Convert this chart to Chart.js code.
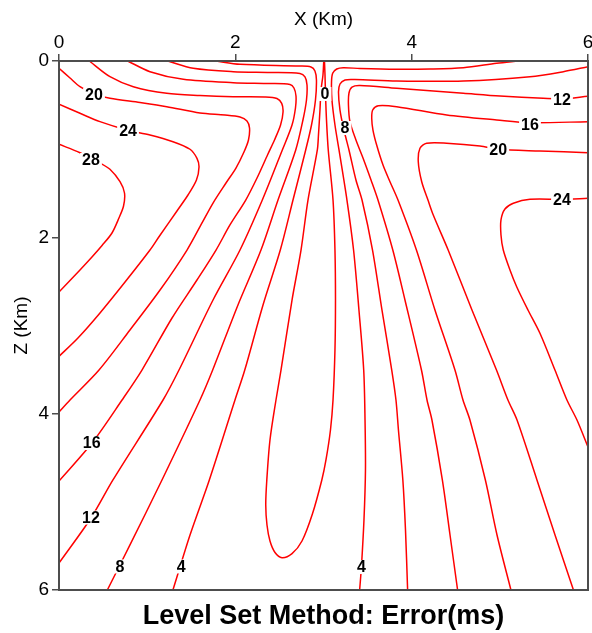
<!DOCTYPE html>
<html>
<head>
<meta charset="utf-8">
<script src="https://cdn.jsdelivr.net/npm/chart.js@4.4.1/dist/chart.umd.min.js"></script>
<style>
html, body { margin: 0; padding: 0; background: #fff; }
#wrap { width: 592px; height: 633px; }
</style>
</head>
<body>
<div id="wrap"><canvas id="chart" width="592" height="633"></canvas></div>
<script>

// contour lines, [x km, z km]
const left28 = [[0,0.945],[0.238,1.040],[0.465,1.157],[0.578,1.228],[0.692,1.369],[0.743,1.497],[0.732,1.645],[0.680,1.781],[0.601,1.951],[0.488,2.093],[0.374,2.223],[0.238,2.370],[0,2.620]];
const left24 = [[0,0.491],[0.238,0.593],[0.465,0.688],[0.771,0.783],[1.032,0.839],[1.293,0.915],[1.486,1.001],[1.565,1.104],[1.588,1.202],[1.559,1.350],[1.463,1.520],[1.338,1.701],[1.134,1.993],[1.032,2.144],[0.749,2.507],[0.465,2.858],[0.215,3.142],[0,3.350]];
const left20 = [[0,0.083],[0.125,0.193],[0.238,0.291],[0.397,0.374],[0.578,0.423],[0.919,0.471],[1.222,0.518],[1.599,0.590],[1.883,0.612],[2.053,0.635],[2.132,0.680],[2.161,0.760],[2.149,0.896],[2.098,1.032],[2.007,1.214],[1.894,1.384],[1.747,1.611],[1.622,1.837],[1.452,2.144],[1.146,2.598],[0.805,3.051],[0.454,3.505],[0.125,3.845],[0,3.981]];
const left16 = [[0.344,0],[0.578,0.178],[0.843,0.291],[1.222,0.366],[1.599,0.391],[1.977,0.405],[2.336,0.408],[2.472,0.425],[2.526,0.480],[2.541,0.578],[2.513,0.726],[2.444,0.896],[2.365,1.066],[2.246,1.327],[2.118,1.577],[1.939,1.860],[1.781,2.144],[1.565,2.484],[1.282,2.915],[0.941,3.505],[0.715,3.845],[0.374,4.333],[0,4.764]];
const left12 = [[0.779,0],[1.032,0.121],[1.410,0.208],[1.977,0.246],[2.393,0.255],[2.620,0.267],[2.665,0.306],[2.688,0.397],[2.682,0.533],[2.643,0.726],[2.533,1.009],[2.306,1.577],[2.053,2.144],[1.747,2.711],[1.361,3.505],[1.180,3.845],[0.612,4.752],[0.363,5.183],[0,5.694]];
const left8 = [[1.233,0],[1.523,0.083],[1.977,0.121],[2.393,0.130],[2.733,0.142],[2.790,0.181],[2.813,0.272],[2.807,0.442],[2.767,0.669],[2.685,1.009],[2.484,1.577],[2.291,2.144],[2.030,2.767],[1.743,3.505],[1.599,3.845],[1.168,4.752],[0.805,5.489],[0.548,6.0]];
const left4 = [[1.781,0],[2.053,0.037],[2.733,0.057],[2.858,0.068],[2.903,0.113],[2.920,0.215],[2.909,0.442],[2.864,0.726],[2.798,1.009],[2.654,1.577],[2.510,2.144],[2.314,2.767],[2.107,3.505],[1.996,3.845],[1.705,4.752],[1.486,5.376],[1.292,6.0]];
const loop0 = [[3.003,0],[2.994,0.159],[2.972,0.329],[2.960,0.556],[2.943,0.839],[2.930,1.009],[2.824,1.577],[2.745,2.144],[2.643,2.711],[2.518,3.505],[2.461,3.845],[2.393,4.299],[2.357,4.752],[2.345,5.036],[2.359,5.263],[2.393,5.444],[2.450,5.574],[2.529,5.633],[2.643,5.587],[2.756,5.444],[2.874,5.138],[2.981,4.752],[3.028,4.525],[3.079,4.185],[3.108,3.845],[3.130,3.278],[3.136,2.711],[3.130,2.144],[3.108,1.577],[3.054,1.009],[3.034,0.669],[3.023,0.386],[3.017,0.159],[3.011,0]];
const right4 = [[5.209,0],[4.964,0.026],[4.586,0.076],[4.208,0.091],[3.830,0.094],[3.414,0.085],[3.224,0.076],[3.150,0.091],[3.104,0.140],[3.091,0.238],[3.096,0.442],[3.130,0.726],[3.176,1.009],[3.266,1.577],[3.341,2.144],[3.402,2.824],[3.456,3.505],[3.471,4.072],[3.476,4.639],[3.459,5.206],[3.430,5.739],[3.410,6.0]];
const right8 = [[6.0,0.065],[5.720,0.121],[5.342,0.178],[4.586,0.227],[3.830,0.227],[3.357,0.210],[3.244,0.215],[3.187,0.261],[3.170,0.352],[3.187,0.556],[3.232,0.783],[3.289,1.009],[3.368,1.350],[3.437,1.577],[3.556,2.144],[3.663,2.824],[3.774,3.505],[3.822,3.845],[3.850,4.185],[3.900,4.752],[3.930,5.319],[3.954,6.0]];
const right12 = [[6.0,0.400],[5.701,0.430],[5.493,0.423],[5.002,0.397],[4.586,0.366],[3.830,0.310],[3.414,0.278],[3.323,0.295],[3.289,0.363],[3.283,0.499],[3.300,0.688],[3.368,0.896],[3.448,1.100],[3.539,1.350],[3.618,1.577],[3.786,2.144],[3.924,2.711],[4.111,3.505],[4.174,3.845],[4.230,4.072],[4.348,4.752],[4.435,5.376],[4.521,6.0]];
const right16 = [[6.0,0.688],[5.342,0.700],[4.964,0.669],[4.397,0.612],[3.830,0.518],[3.621,0.507],[3.558,0.556],[3.547,0.650],[3.561,0.783],[3.603,0.953],[3.675,1.180],[3.754,1.369],[3.845,1.577],[4.054,2.144],[4.264,2.824],[4.491,3.505],[4.582,3.845],[4.661,4.072],[4.836,4.752],[4.968,5.376],[5.126,6.0]];
const right20 = [[6.0,1.040],[5.455,1.021],[4.982,1.001],[4.775,0.964],[4.397,0.933],[4.170,0.933],[4.094,0.990],[4.075,1.142],[4.114,1.369],[4.185,1.577],[4.245,1.747],[4.414,2.144],[4.684,2.824],[4.962,3.505],[5.092,3.845],[5.195,4.072],[5.421,4.752],[5.626,5.376],[5.835,6.0]];
const right24 = [[6.0,1.557],[5.701,1.569],[5.342,1.569],[5.153,1.614],[5.058,1.679],[5.013,1.803],[5.013,1.973],[5.039,2.144],[5.115,2.370],[5.191,2.560],[5.319,2.824],[5.455,3.088],[5.625,3.505],[5.761,3.845],[5.875,4.072],[6.0,4.378]];

// contour labels
const labelText = ['20','24','28','16','12','8','4','0','8','12','16','20','24','4'];
const labelX = [0.397,0.783,0.363,0.371,0.363,0.690,1.387,3.017,3.244,5.705,5.342,4.982,5.705,3.430];
const labelZ = [0.386,0.794,1.123,4.333,5.178,5.733,5.733,0.374,0.760,0.442,0.718,1.001,1.569,5.739];

const xTicks = [0, 2, 4, 6];
const zTicks = [0, 2, 4, 6];

const FONT = '"Liberation Sans", Arial, Helvetica, sans-serif';
const AXIS = '#4d4d4d';

const contours = [left28, left24, left20, left16, left12, left8, left4, loop0,
	right4, right8, right12, right16, right20, right24];

const datasets = contours.map((line)=>{
	return {
		data: line.map(p => ({x: p[0], y: p[1]})),
		showLine: true,
		borderColor: '#ff0000',
		borderWidth: 1.5,
		pointRadius: 0,
		tension: 0.3,
		fill: false
	};
});

const contourLabels = {
	id: 'contourLabels',
	afterDatasetsDraw(chart){
		const ctx = chart.ctx;
		const xs = chart.scales.x, ys = chart.scales.y;
		ctx.save();
		ctx.font = 'bold 16px ' + FONT;
		ctx.textAlign = 'center';
		ctx.textBaseline = 'middle';
		labelText.forEach((t, i)=>{
			const px = xs.getPixelForValue(labelX[i]);
			const py = ys.getPixelForValue(labelZ[i]);
			const w = ctx.measureText(t).width;
			ctx.fillStyle = '#fff';
			ctx.fillRect(px - w/2 - 2, py - 7, w + 4, 14);
			ctx.fillStyle = '#000';
			ctx.fillText(t, px, py + 1);
		});
		ctx.restore();
	}
};

const frame = {
	id: 'frame',
	afterDraw(chart){
		const a = chart.chartArea;
		const ctx = chart.ctx;
		ctx.save();
		ctx.strokeStyle = AXIS;
		ctx.lineWidth = 2;
		ctx.strokeRect(a.left, a.top, a.right - a.left, a.bottom - a.top);
		ctx.restore();
	}
};

const chart = new Chart(document.getElementById('chart'), {
	type: 'scatter',
	data: { datasets: datasets },
	plugins: [contourLabels, frame],
	options: {
		responsive: false,
		animation: false,
		devicePixelRatio: 1,
		layout: { padding: { left: 0, top: 0, right: 4, bottom: 0 } },
		plugins: {
			legend: { display: false },
			tooltip: { enabled: false },
			title: {
				display: true,
				position: 'bottom',
				fullSize: false,
				text: 'Level Set Method: Error(ms)',
				color: '#000',
				font: { family: FONT, size: 27, weight: 'bold', lineHeight: 1.2 },
				padding: { top: 10, bottom: 0.6 }
			}
		},
		scales: {
			x: {
				type: 'linear',
				position: 'top',
				min: 0,
				max: 6,
				afterBuildTicks(scale){ scale.ticks = xTicks.map(v => ({value: v})); },
				ticks: { color: '#000', font: { family: FONT, size: 19 }, padding: 0 },
				grid: { drawOnChartArea: false, drawTicks: true, tickLength: 7, color: AXIS, lineWidth: 1.5 },
				border: { display: true, color: AXIS, width: 2 },
				title: { display: true, text: 'X (Km)', color: '#000', font: { family: FONT, size: 19 }, padding: { top: 8, bottom: 0 } },
				afterFit(scale){ scale.height = 61; scale.paddingLeft = 0; scale.paddingRight = 0; }
			},
			y: {
				type: 'linear',
				position: 'left',
				reverse: true,
				min: 0,
				max: 6,
				afterBuildTicks(scale){ scale.ticks = zTicks.map(v => ({value: v})); },
				ticks: { color: '#000', font: { family: FONT, size: 19 }, padding: 3 },
				grid: { drawOnChartArea: false, drawTicks: true, tickLength: 7, color: AXIS, lineWidth: 1.5 },
				border: { display: true, color: AXIS, width: 2 },
				title: { display: true, text: 'Z (Km)', color: '#000', font: { family: FONT, size: 19 }, padding: { top: 10, bottom: 0 } },
				afterFit(scale){ scale.width = 59; scale.paddingTop = 0; scale.paddingBottom = 0; }
			}
		}
	}
});

</script>
</body>
</html>
